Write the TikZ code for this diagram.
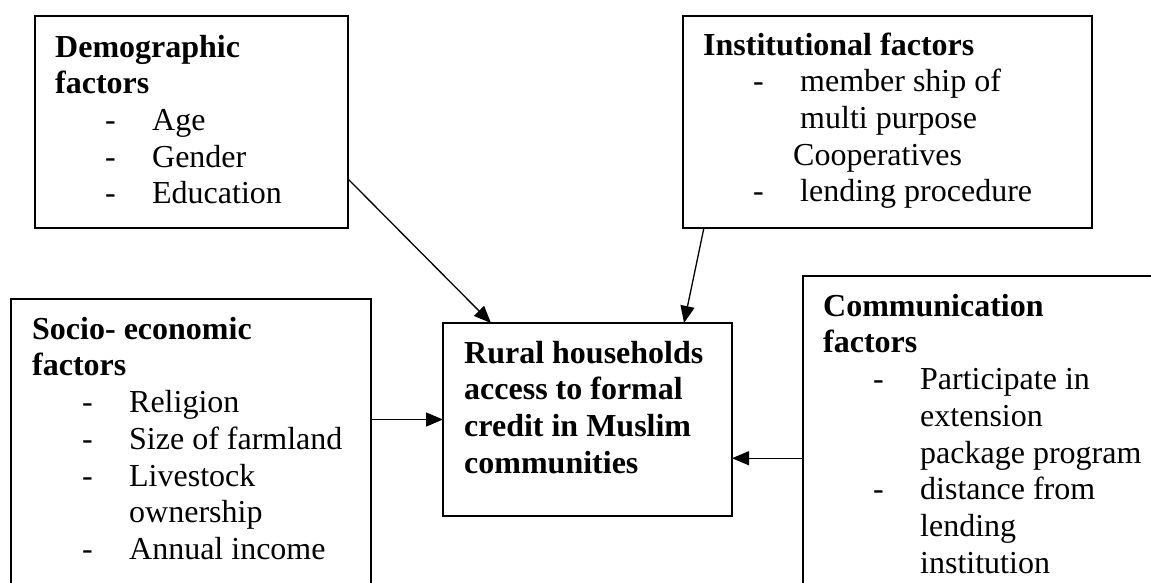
\documentclass[tikz,border=0pt]{standalone}
\usepackage{fontspec}
\setmainfont{Liberation Serif}
\usepackage{tikz}
\usetikzlibrary{arrows.meta, positioning}
\newcommand{\dashitem}[1]{\hspace*{50pt}\makebox[47pt][l]{-}#1}
\newcommand{\contline}[2][97pt]{\hspace*{#1}#2}
\begin{document}
\begin{tikzpicture}[
          x=1pt, y=-1pt,
          factorbox/.style={rectangle, draw, line width=1.5pt, anchor=north west, inner sep=0pt, outer sep=0pt},
          boxtext/.style={anchor=north west, inner sep=0pt, align=left, font=\fontsize{32}{36.7}\selectfont},
          arr/.style={-{Triangle[length=17pt, width=14pt]}, line width=1.3pt}
        ]
          \clip (0,0) rectangle (1151,582);
          \fill[white] (0,0) rectangle (1151,582);
          % boxes
          \node[factorbox, minimum width=313pt, minimum height=212pt] (demo) at (35,16) {};
          \node[factorbox, minimum width=409pt, minimum height=212pt] (inst) at (683,16) {};
          \node[factorbox, minimum width=360pt, minimum height=320pt] (socio) at (11,299) {};
          \node[factorbox, minimum width=289pt, minimum height=193pt] (central) at (443,323) {};
          \node[factorbox, minimum width=380pt, minimum height=340pt] (comm) at (803,276) {};
          % texts
          \node[boxtext] (demotxt) at (55,31.3) {\strut\textbf{Demographic}\\ \textbf{factors}\\
            \dashitem{Age}\\ \dashitem{Gender}\\ \dashitem{Education}};
          \node[boxtext] (insttxt) at (703,29.3) {\strut\textbf{Institutional factors}\\
            \dashitem{member ship of}\\ \contline{multi purpose}\\ \contline[90pt]{Cooperatives}\\
            \dashitem{lending procedure}};
          \node[boxtext] (sociotxt) at (32,313.3) {\strut\textbf{Socio- economic}\\ \textbf{factors}\\
            \dashitem{Religion}\\ \dashitem{Size of farmland}\\ \dashitem{Livestock}\\
            \contline{ownership}\\ \dashitem{Annual income}};
          \node[boxtext, font=\fontsize{32}{36.7}\selectfont\bfseries] (centtxt) at (464,337.3) {\strut Rural households\\
            access to formal\\ credit in Muslim\\ communities};
          \node[boxtext] (commtxt) at (823,290.3) {\strut\textbf{Communication}\\ \textbf{factors}\\
            \dashitem{Participate in}\\ \contline{extension}\\ \contline{package program}\\
            \dashitem{distance from}\\ \contline{lending}\\ \contline{institution}};
          % arrows
          \draw[arr] (demo.-20.66) -- (central.135.3);
          \draw[arr] (inst.210.4) -- (central.45.3);
          \draw[arr] (socio.east |- central.west) -- (central.west);
          \draw[arr] (comm.west |- central.-15.66) -- (central.-15.66);
        \end{tikzpicture}
\end{document}
